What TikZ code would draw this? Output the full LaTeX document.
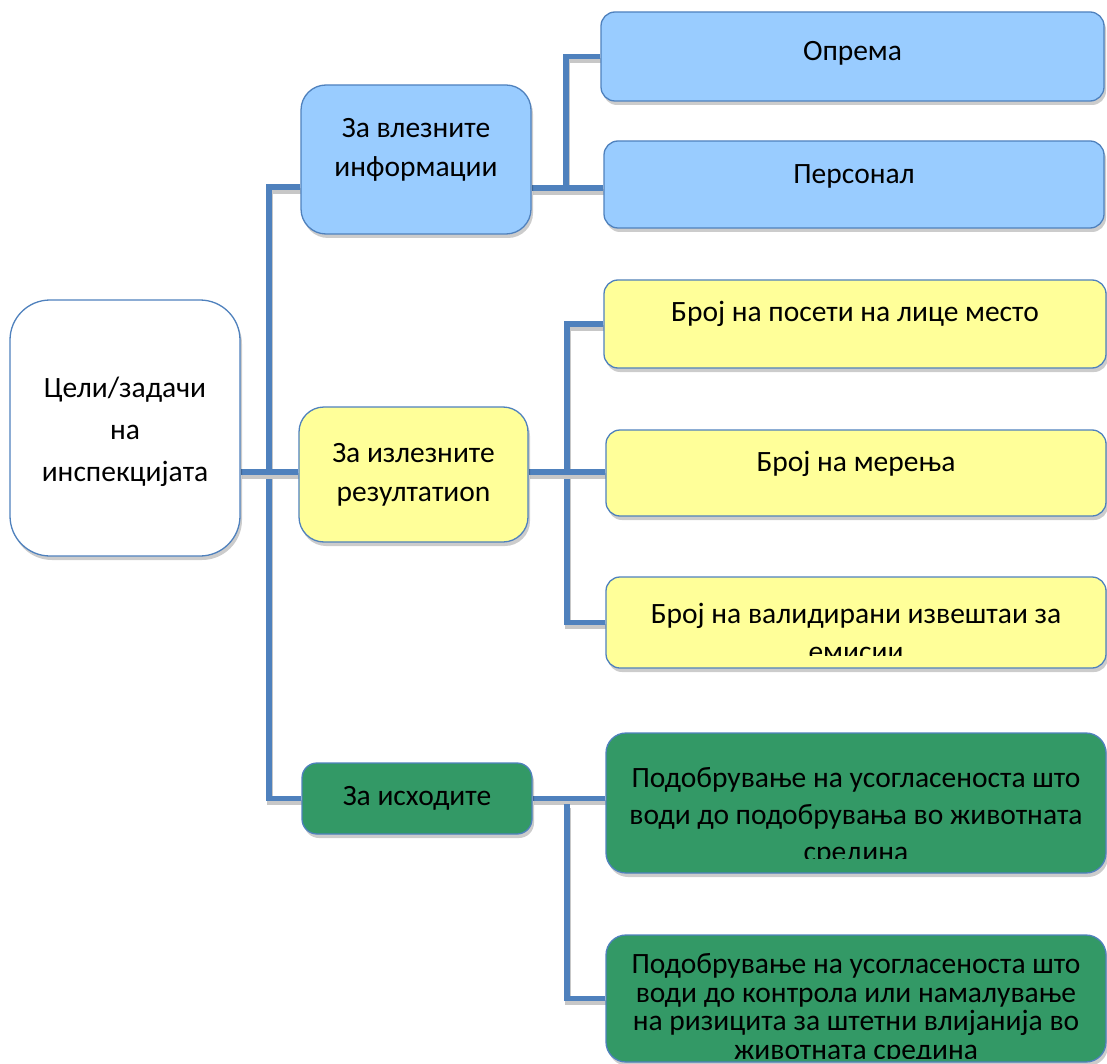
\documentclass[tikz,border=0pt]{standalone}
\usepackage{fontspec}
\setmainfont{Carlito}
\usetikzlibrary{shadows}
\definecolor{edge}{RGB}{79,129,189}
\definecolor{fblue}{RGB}{153,204,255}
\definecolor{fyellow}{RGB}{255,255,153}
\definecolor{fgreen}{RGB}{51,153,102}
\pgfdeclarelayer{bg}
\pgfsetlayers{bg,main}
\tikzset{
  box/.style={draw=edge, line width=1.3pt, rounded corners=#1, inner sep=0pt,
    drop shadow={shadow xshift=2pt, shadow yshift=-4pt, fill=black, opacity=0.2}},
  box/.default=14pt,
  conn/.style={draw=edge, line width=5.5pt,
    preaction={draw=black!22, line width=5.5pt, transform canvas={shift={(1pt,-4pt)}}}},
  txt/.style={font=\fontsize{29.5}{41}\selectfont, align=center, inner sep=0pt, text=black},
}
\begin{document}
\begin{tikzpicture}[x=1pt,y=-1pt]
\useasboundingbox (0,0) rectangle (1107,1064);
% boxes
\node[box=40pt, fill=white, minimum width=230pt, minimum height=256pt] (root) at (125,428) {};
\node[box=25pt, fill=fblue, minimum width=230pt, minimum height=149pt] (blue) at (416,159.5) {};
\node[box=25pt, fill=fyellow, minimum width=229pt, minimum height=135pt] (yellow) at (413.5,474.5) {};
\node[box=15pt, fill=fgreen, minimum width=230pt, minimum height=71pt] (gmid) at (417,798.5) {};
\node[box, fill=fblue, minimum width=503pt, minimum height=89pt] (op) at (852.5,56.5) {};
\node[box, fill=fblue, minimum width=500pt, minimum height=87pt] (pers) at (854,184.5) {};
\node[box, fill=fyellow, minimum width=502pt, minimum height=88pt] (b1) at (855,324) {};
\node[box, fill=fyellow, minimum width=500pt, minimum height=86pt] (b2) at (856,473) {};
\node[box, fill=fyellow, minimum width=500pt, minimum height=91pt] (b3) at (856,622.5) {};
\node[box=20pt, fill=fgreen, minimum width=500pt, minimum height=140pt] (g1) at (856,803) {};
\node[box=20pt, fill=fgreen, minimum width=500pt, minimum height=127pt] (g2) at (856,998.5) {};
% texts
\node[txt, font=\fontsize{29.5}{42}\selectfont] (tRoot) at (125,432) {Цели/задачи\\на\\инспекцијата};
\node[txt, font=\fontsize{29.5}{39}\selectfont] (tBlue) at (416,150) {За влезните\\информации};
\node[txt, font=\fontsize{29.5}{39}\selectfont] (tYel) at (413.5,475) {За излезните\\резултатиоn};
\node[txt] (tGM) at (417,798) {За исходите};
\node[txt] (tOp) at (852.5,53) {Опрема};
\node[txt] (tPers) at (854,176) {Персонал};
\node[txt] (tB1) at (855,314) {Број на посети на лице место};
\node[txt] (tB2) at (856,464) {Број на мерења};
\begin{scope}
  \clip ([yshift=13pt]b3.south west) rectangle (b3.north east);
  \node[txt, font=\fontsize{29.5}{38}\selectfont] (tB3) at (856,632) {Број на валидирани извештаи за\\емисии};
\end{scope}
\begin{scope}
  \clip ([yshift=15pt]g1.south west) rectangle (g1.north east);
  \node[txt, font=\fontsize{29.5}{37}\selectfont] (tG1) at (856,816.5) {Подобрување на усогласеноста што\\води до подобрувања во животната\\средина};
\end{scope}
\begin{scope}
  \clip ([yshift=4pt]g2.south west) rectangle (g2.north east);
  \node[txt, font=\fontsize{29.5}{28.5}\selectfont] (tG2) at (856,1009) {Подобрување на усогласеноста што\\води до контрола или намалување\\на ризицита за штетни влијанија во\\животната средина};
\end{scope}
% junctions
\coordinate (vTop) at (269,187);
\coordinate (vMid) at (269,472);
\coordinate (vBot) at (269,798.5);
\coordinate (bj) at (566,188);
\coordinate (ycol) at (567,0);
\coordinate (gtop) at (567,804);
\begin{pgfonlayer}{bg}
\draw[conn] (blue.west |- vTop) -- (vTop) -- (vBot) -- (gmid.west |- vBot);
\draw[conn] (root.east |- vMid) -- (yellow.west |- vMid);
\draw[conn] (op.west) -| (bj);
\draw[conn] (blue.east |- bj) -- (pers.west |- bj);
\draw[conn] (b1.west) -- (b1.west -| ycol) -- (b3.west -| ycol) -- (b3.west);
\draw[conn] (yellow.east |- vMid) -- (b2.west |- vMid);
\draw[conn] (gmid.east) -- (g1.west |- gmid.east);
\draw[conn] (gtop) -- (g2.west -| gtop) -- (g2.west);
\end{pgfonlayer}
\end{tikzpicture}
\end{document}
